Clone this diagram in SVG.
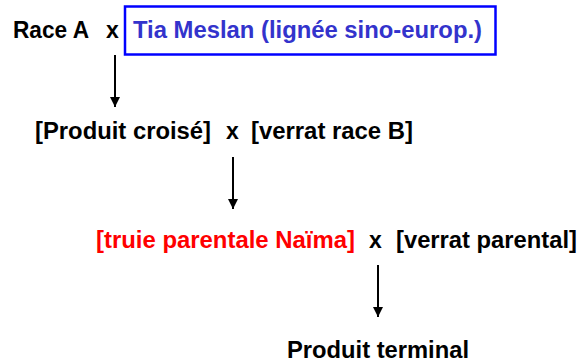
<svg xmlns="http://www.w3.org/2000/svg" width="582" height="363" viewBox="0 0 582 363">
<style>
text{font-family:"Liberation Sans",Arial,sans-serif;font-weight:bold;font-size:23px;fill:#000}
.blue{fill:#3333cc}
.red{fill:#ff0000}
.conn{stroke:#000;stroke-width:2;fill:none}
</style>
<defs>
<marker id="ah" viewBox="0 0 10 10" refX="10" refY="5" markerWidth="5" markerHeight="5.5" orient="auto" markerUnits="strokeWidth">
<path d="M0,0 L10,5 L0,10 z" fill="#000"/>
</marker>
</defs>
<rect width="582" height="363" fill="#fff"/>
<g id="cross1">
<text x="13" y="38" textLength="76" lengthAdjust="spacingAndGlyphs">Race A</text>
<text x="106" y="38">x</text>
</g>
<g id="tia-meslan">
<rect x="125" y="6.5" width="370.5" height="48" fill="none" stroke="#0000ff" stroke-width="2.5"/>
<text class="blue" x="133" y="38" textLength="349" lengthAdjust="spacingAndGlyphs">Tia Meslan (lignée sino-europ.)</text>
</g>
<g id="cross2">
<text x="35" y="139" textLength="176" lengthAdjust="spacingAndGlyphs">[Produit croisé]</text>
<text x="226" y="139">x</text>
<text x="251" y="139" textLength="162" lengthAdjust="spacingAndGlyphs">[verrat race B]</text>
</g>
<g id="cross3">
<text class="red" x="96" y="248" textLength="259" lengthAdjust="spacingAndGlyphs">[truie parentale Naïma]</text>
<text x="369" y="248">x</text>
<text x="396" y="248" textLength="181" lengthAdjust="spacingAndGlyphs">[verrat parental]</text>
</g>
<g id="produit-terminal">
<text x="287" y="358" textLength="182" lengthAdjust="spacingAndGlyphs">Produit terminal</text>
</g>
<g id="connectors">
<line class="conn" x1="115" y1="55" x2="115" y2="107" marker-end="url(#ah)"/>
<line class="conn" x1="233" y1="157" x2="233" y2="209" marker-end="url(#ah)"/>
<line class="conn" x1="378" y1="265" x2="378" y2="317" marker-end="url(#ah)"/>
</g>
</svg>
